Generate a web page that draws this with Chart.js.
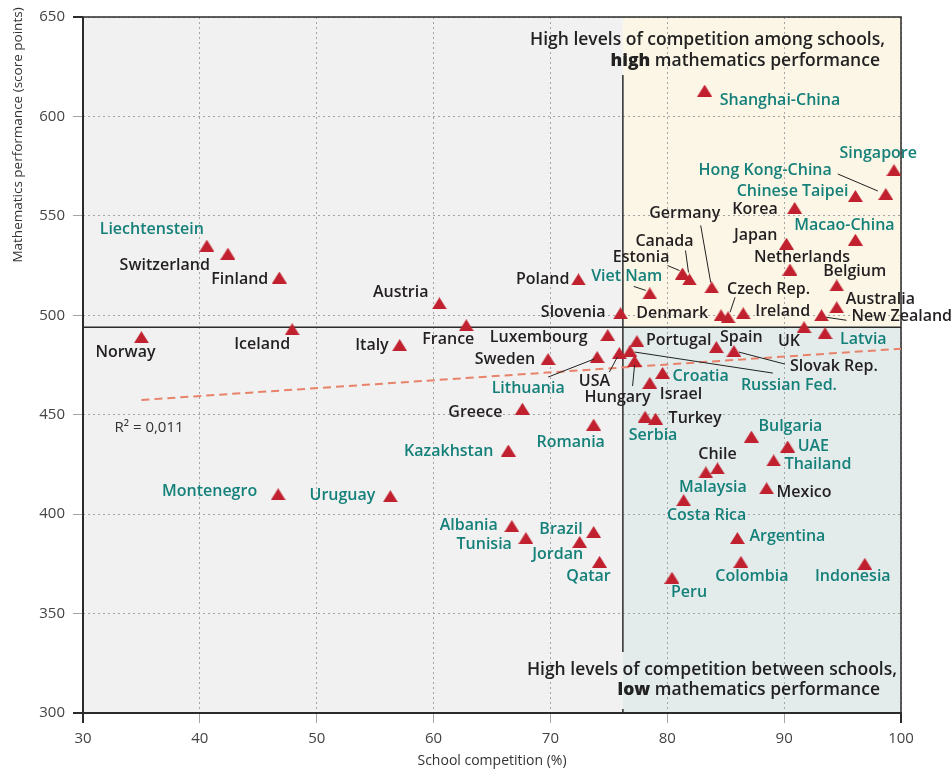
<!DOCTYPE html>
<html><head><meta charset="utf-8">
<script src="https://cdn.jsdelivr.net/npm/chart.js@4.4.1/dist/chart.umd.min.js"></script>
<style>html,body{margin:0;padding:0;background:#fff;}</style>
</head><body>
<canvas id="c" width="952" height="769"></canvas>
<script>
// ---------------- DATA ----------------
const countries = ['Shanghai-China','Singapore','Hong Kong-China','Chinese Taipei','Korea','Macao-China','Japan','Liechtenstein','Switzerland','Netherlands','Estonia','Finland','Canada','Poland','Belgium','Germany','Viet Nam','Austria','Australia','Ireland','Slovenia','Denmark','New Zealand','Czech Rep.','France','UK','Iceland','Latvia','Luxembourg','Norway','Portugal','Italy','Spain','Russian Fed.','Slovak Rep.','USA','Lithuania','Sweden','Hungary','Croatia','Israel','Greece','Serbia','Turkey','Romania','Kazakhstan','Bulgaria','UAE','Thailand','Chile','Malaysia','Mexico','Montenegro','Uruguay','Costa Rica','Albania','Brazil','Argentina','Tunisia','Jordan','Colombia','Qatar','Indonesia','Peru'];
const competition = [83.2,99.4,98.7,96.1,90.9,96.1,90.2,40.6,42.4,90.5,81.3,46.8,81.9,72.4,94.5,83.8,78.5,60.5,94.5,86.5,76.0,84.6,93.2,85.2,62.8,91.7,47.9,93.5,74.9,35.0,77.4,57.1,84.2,76.8,85.7,75.9,74.0,69.8,77.2,79.6,78.5,67.6,78.1,79.0,73.7,66.4,87.2,90.3,89.1,84.3,83.3,88.5,46.7,56.3,81.4,66.7,73.7,86.0,67.9,72.5,86.3,74.2,96.9,80.4];
const mathScore = [613,573,561,560,554,538,536,535,531,523,521,519,518,518,515,514,511,506,504,501,501,500,500,499,495,494,493,491,490,489,487,485,484,482,482,481,479,478,477,471,466,453,449,448,445,432,439,434,427,423,421,413,410,409,407,394,391,388,388,386,376,376,375,368];
const partner = ['Shanghai-China','Singapore','Hong Kong-China','Chinese Taipei','Macao-China','Liechtenstein','Viet Nam','Latvia','Russian Fed.','Lithuania','Croatia','Serbia','Romania','Kazakhstan','Bulgaria','UAE','Thailand','Malaysia','Montenegro','Uruguay','Costa Rica','Albania','Brazil','Argentina','Tunisia','Jordan','Colombia','Qatar','Indonesia','Peru'];
const trendX = [35, 100];
const trendY = [457.4, 483.2];
const competitionAverage = 76.2;
const mathAverage = 494;
const xTicks = [30,40,50,60,70,80,90,100];
const yTicks = [300,350,400,450,500,550,600,650];
const r2Text = 'R² = 0,011';

// -------------- LABEL LAYOUT (pixel offsets from each marker) --------------
const labelLayout = {
 'Shanghai-China':['left',15,10],'Singapore':['right',23,-17],'Hong Kong-China':['right',-54,-24,[-48,-20,-8,-3]],
 'Chinese Taipei':['right',-7,-5],'Korea':['right',-17,2],'Macao-China':['center',-11,-14],'Japan':['right',-9,-8],
 'Liechtenstein':['right',-3,-16],'Switzerland':['right',-18,12],'Netherlands':['center',12,-12],
 'Estonia':['right',-13,-16,[-15,-8,-3,-3]],'Finland':['right',-11,2],'Canada':['center',-25,-38,[-4,-29,-1,-7]],
 'Poland':['right',-9,0],'Belgium':['center',18,-14],'Germany':['center',-27,-74,[-11,-62,-1,-5]],
 'Viet Nam':['center',-23,-17,[-16,-7,-4,-3]],'Austria':['right',-11,-11],'Australia':['left',9,-8],
 'Ireland':['left',12,-2],'Slovenia':['right',-15,-1],'Denmark':['right',-13,-2],
 'New Zealand':['left',30,1,[5,2,25,5]],'Czech Rep.':['left',-1,-28,[7,-20,2,-5]],'France':['center',-18,14],
 'UK':['center',-15,14],'Iceland':['center',-30,15],'Latvia':['left',15,6],'Luxembourg':['right',-20,2],
 'Norway':['center',-16,15],'Portugal':['left',9,-1],'Italy':['right',-11,0],'Spain':['center',25,-10],
 'Russian Fed.':['left',111,34,[5,1,143,22]],'Slovak Rep.':['left',56,15,[5,1,51,13]],
 'USA':['center',-25,28,[-2,4,-10,19]],'Lithuania':['center',-69,31,[-3,2,-49,20]],'Sweden':['right',-13,0],
 'Hungary':['center',-17,36,[0,4,-2,25]],'Croatia':['left',10,3],'Israel':['left',10,12],'Greece':['right',-20,4],
 'Serbia':['center',8,19],'Turkey':['left',13,0],'Romania':['center',-23,18],'Kazakhstan':['right',-15,1],
 'Bulgaria':['left',7,-10],'UAE':['left',10,0],'Thailand':['left',11,4],'Chile':['center',0,-14],
 'Malaysia':['center',7,15],'Mexico':['left',10,4],'Montenegro':['right',-21,-3],'Uruguay':['right',-15,-1],
 'Costa Rica':['center',23,15],'Albania':['right',-14,-1],'Brazil':['right',-11,-3],'Argentina':['left',12,-2],
 'Tunisia':['right',-14,6],'Jordan':['center',-22,12],'Colombia':['center',11,15],'Qatar':['center',-11,15],
 'Indonesia':['center',-12,13],'Peru':['left',-1,15]
};

const TEAL = '#15807a', DARK = '#231f20', RED = '#c1212f';
const LABEL_FONT = '600 16px "Open Sans", sans-serif';
const CAP_FONT = '600 17.5px "Open Sans", sans-serif';
const CAP_BOLD = '800 17.5px "Open Sans", sans-serif';

// triangle marker with its box centred on the data point
const tri = document.createElement('canvas');
tri.width = 15; tri.height = 12;
(function(){const g = tri.getContext('2d'); g.fillStyle = RED; g.beginPath(); g.moveTo(7.5,0); g.lineTo(15,12); g.lineTo(0,12); g.closePath(); g.fill();})();

const points = countries.map((c,i)=>({x:competition[i], y:mathScore[i]}));
const trend = trendX.map((x,i)=>({x, y:trendY[i]}));

const quadrantPlugin = {
  id:'quadrants',
  beforeDraw(chart){
    const {ctx, chartArea:a, scales:{x,y}} = chart;
    const xs = x.getPixelForValue(competitionAverage), ys = y.getPixelForValue(mathAverage);
    ctx.save();
    ctx.fillStyle = '#f0f1f0'; ctx.fillRect(a.left, a.top, xs-a.left, a.bottom-a.top);
    ctx.fillStyle = '#fcf6e6'; ctx.fillRect(xs, a.top, a.right-xs, ys-a.top);
    ctx.fillStyle = '#e3ebeb'; ctx.fillRect(xs, ys, a.right-xs, a.bottom-ys);
    ctx.restore();
  },
  beforeDatasetsDraw(chart){
    const {ctx, chartArea:a, scales:{x,y}} = chart;
    const xs = x.getPixelForValue(competitionAverage), ys = y.getPixelForValue(mathAverage);
    ctx.save();
    ctx.strokeStyle = '#2b2b2b'; ctx.lineWidth = 1.5;
    ctx.beginPath(); ctx.moveTo(a.left, ys); ctx.lineTo(a.right, ys); ctx.stroke();
    ctx.beginPath(); ctx.moveTo(xs, a.top+58); ctx.lineTo(xs, a.bottom-61); ctx.stroke();
    ctx.beginPath(); ctx.moveTo(xs, a.bottom-4); ctx.lineTo(xs, a.bottom); ctx.stroke();
    ctx.lineWidth = 1.5;
    ctx.strokeRect(a.left, a.top, a.right-a.left, a.bottom-a.top);
    ctx.lineWidth = 2;
    ctx.beginPath(); ctx.moveTo(a.left, a.top); ctx.lineTo(a.left, a.bottom+10); ctx.stroke();
    ctx.beginPath(); ctx.moveTo(a.left-10, a.bottom); ctx.lineTo(a.right, a.bottom); ctx.lineTo(a.right, a.bottom+10); ctx.stroke();
    ctx.beginPath(); ctx.moveTo(a.left-10, a.top); ctx.lineTo(a.left, a.top); ctx.stroke();
    ctx.restore();
  },
  afterDatasetsDraw(chart){
    const {ctx, chartArea:a, scales:{x,y}} = chart;
    const meta = chart.getDatasetMeta(1);
    ctx.save();
    ctx.font = LABEL_FONT; ctx.textBaseline = 'middle';
    countries.forEach((c,i)=>{
      const el = meta.data[i]; const L = labelLayout[c]; if(!L) return;
      const px = el.x, py = el.y;
      if(L[3]){
        ctx.strokeStyle = '#222'; ctx.lineWidth = 1;
        ctx.beginPath(); ctx.moveTo(px+L[3][0], py+L[3][1]); ctx.lineTo(px+L[3][2], py+L[3][3]); ctx.stroke();
      }
      ctx.fillStyle = partner.includes(c) ? TEAL : DARK;
      ctx.textAlign = L[0];
      ctx.fillText(c, px+L[1], py+L[2]);
    });
    ctx.fillStyle = '#333'; ctx.textAlign = 'left'; ctx.font = '15px "Open Sans", sans-serif';
    ctx.fillText(r2Text, x.getPixelForValue(32.7), y.getPixelForValue(443.5));
    const cap = (boldWord, rest, rightX, yy)=>{
      ctx.textAlign = 'left';
      ctx.font = CAP_BOLD; const wb = ctx.measureText(boldWord).width;
      ctx.font = CAP_FONT; const wr = ctx.measureText(rest).width;
      const x0 = rightX - wb - wr;
      ctx.font = CAP_BOLD; ctx.fillText(boldWord, x0, yy);
      ctx.font = CAP_FONT; ctx.fillText(rest, x0+wb, yy);
    };
    ctx.fillStyle = '#222';
    ctx.font = CAP_FONT; ctx.textAlign = 'right';
    ctx.fillText('High levels of competition among schools,', 885, 40);
    cap('high', ' mathematics performance', 880, 61);
    ctx.font = CAP_FONT; ctx.textAlign = 'right';
    ctx.fillText('High levels of competition between schools,', 897, 670);
    cap('low', ' mathematics performance', 880, 690);
    ctx.fillStyle = '#333'; ctx.font = '14px "Open Sans", sans-serif'; ctx.textAlign = 'center';
    ctx.fillText('School competition (%)', (a.left+a.right)/2, 761);
    ctx.translate(18, 135); ctx.rotate(-Math.PI/2);
    ctx.font = '13.5px "Open Sans", sans-serif';
    ctx.fillText('Mathematics performance (score points)', 0, 0);
    ctx.restore();
  }
};

new Chart(document.getElementById('c'), {
  type:'scatter',
  data:{datasets:[
    {type:'line', data:trend, borderColor:'#e8826a', borderWidth:2, borderDash:[8,5], pointRadius:0, fill:false, order:2},
    {data:points, pointStyle:tri, pointRadius:7, pointHoverRadius:7, backgroundColor:RED, borderColor:RED, order:1}
  ]},
  options:{
    responsive:false, animation:false, devicePixelRatio:1,
    layout:{padding:{left:0, top:17, right:51, bottom:0}},
    plugins:{legend:{display:false}, tooltip:{enabled:false}},
    scales:{
      x:{type:'linear', min:30, max:100,
         afterFit(s){s.height = 56;},
         afterBuildTicks(s){s.ticks = xTicks.map(v=>({value:v}));},
         grid:{color:'#a5a5a5', lineWidth:1, tickLength:10, drawTicks:true},
         border:{display:false, dash:[2,3]},
         ticks:{color:'#444', font:{family:'"Open Sans", sans-serif', size:15}, padding:7}},
      y:{type:'linear', min:300, max:650,
         afterFit(s){s.width = 83;},
         afterBuildTicks(s){s.ticks = yTicks.map(v=>({value:v}));},
         grid:{color:'#a5a5a5', lineWidth:1, tickLength:10, drawTicks:true},
         border:{display:false, dash:[2,3]},
         ticks:{color:'#444', font:{family:'"Open Sans", sans-serif', size:15}, padding:8}}
    }
  },
  plugins:[quadrantPlugin]
});
</script>
</body></html>
